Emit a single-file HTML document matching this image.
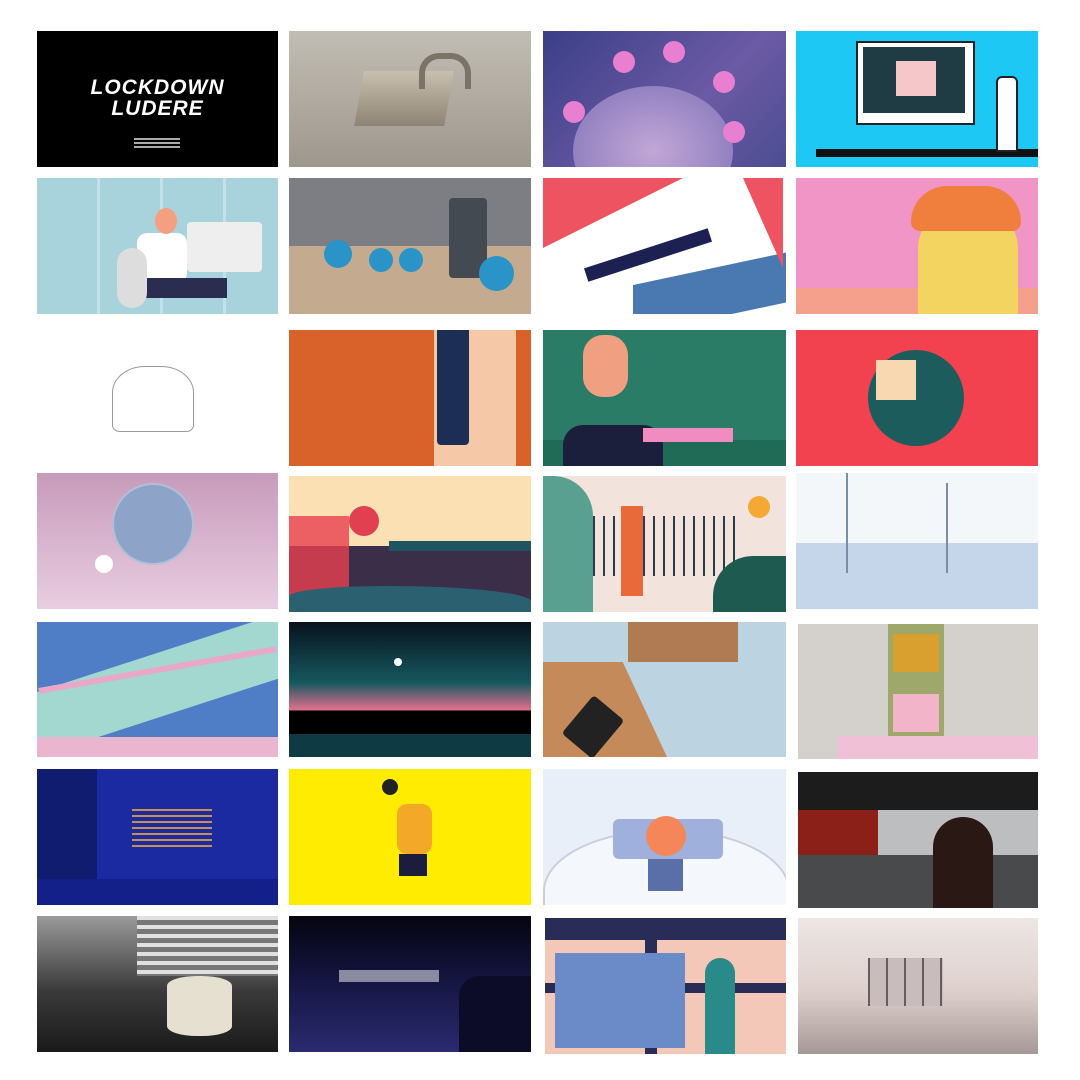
<!DOCTYPE html>
<html><head><meta charset="utf-8"><style>
body{margin:0;width:1080px;height:1080px;background:#fff;position:relative;overflow:hidden;font-family:"Liberation Sans",sans-serif}
.c{position:absolute;overflow:hidden}
.s{position:absolute}
</style></head><body>
<!-- Row 1 -->
<div class="c" style="left:37px;top:31px;width:241px;height:136px;background:#000">
  <div class="s" style="left:0;width:241px;top:46px;text-align:center;color:#fff;font-weight:bold;font-style:italic;font-size:21px;line-height:21px;letter-spacing:1px">LOCKDOWN<br>LUDERE</div>
  <div class="s" style="left:97px;top:107px;width:46px;height:2px;background:#aaa"></div>
  <div class="s" style="left:97px;top:111px;width:46px;height:2px;background:#aaa"></div>
  <div class="s" style="left:97px;top:115px;width:46px;height:2px;background:#aaa"></div>
</div>
<div class="c" style="left:289px;top:31px;width:242px;height:136px;background:linear-gradient(#c2bdb4,#9e978d)">
  <div class="s" style="left:70px;top:40px;width:90px;height:55px;background:linear-gradient(#c8bfae,#8d8474);transform:skewX(-10deg)"></div>
  <div class="s" style="left:130px;top:22px;width:40px;height:30px;border:6px solid #7a7367;border-bottom:none;border-radius:20px 20px 0 0"></div>
</div>
<div class="c" style="left:543px;top:31px;width:243px;height:136px;background:linear-gradient(135deg,#3b3f86,#6b5aa5 60%,#4d4d90)">
  <div class="s" style="left:30px;top:55px;width:160px;height:130px;border-radius:50%;background:radial-gradient(#c2a7d6,#7f72b8)"></div>
  <div class="s" style="left:70px;top:20px;width:22px;height:22px;border-radius:50%;background:#e87fd0"></div>
  <div class="s" style="left:120px;top:10px;width:22px;height:22px;border-radius:50%;background:#e87fd0"></div>
  <div class="s" style="left:170px;top:40px;width:22px;height:22px;border-radius:50%;background:#e87fd0"></div>
  <div class="s" style="left:20px;top:70px;width:22px;height:22px;border-radius:50%;background:#e87fd0"></div>
  <div class="s" style="left:180px;top:90px;width:22px;height:22px;border-radius:50%;background:#e87fd0"></div>
</div>
<div class="c" style="left:796px;top:31px;width:242px;height:136px;background:#1ec8f4">
  <div class="s" style="left:60px;top:10px;width:115px;height:80px;background:#fff;border:2px solid #222"></div>
  <div class="s" style="left:67px;top:16px;width:102px;height:66px;background:#1f3c44"></div>
  <div class="s" style="left:100px;top:30px;width:40px;height:35px;background:#f4c8c8"></div>
  <div class="s" style="left:20px;top:118px;width:222px;height:8px;background:#111"></div>
  <div class="s" style="left:200px;top:45px;width:18px;height:72px;background:#fff;border:2px solid #222;border-radius:6px 6px 2px 2px"></div>
</div>
<!-- Row 2 -->
<div class="c" style="left:37px;top:178px;width:241px;height:136px;background:#a8d3dc">
  <div class="s" style="left:0;top:0;width:241px;height:136px;background:repeating-linear-gradient(90deg,transparent 0 60px,#c2e1e8 60px 63px)"></div>
  <div class="s" style="left:150px;top:44px;width:75px;height:50px;background:#eee;border-radius:4px"></div>
  <div class="s" style="left:100px;top:55px;width:50px;height:50px;background:#fff;border-radius:10px"></div>
  <div class="s" style="left:118px;top:30px;width:22px;height:26px;background:#f4a080;border-radius:50%"></div>
  <div class="s" style="left:90px;top:100px;width:100px;height:20px;background:#2a2d50"></div>
  <div class="s" style="left:80px;top:70px;width:30px;height:60px;background:#ddd;border-radius:15px"></div>
</div>
<div class="c" style="left:289px;top:178px;width:242px;height:136px;background:linear-gradient(#7c7e84 0 50%,#c4ab8f 50%)">
  <div class="s" style="left:160px;top:20px;width:38px;height:80px;background:#444a52;border-radius:4px"></div>
  <div class="s" style="left:35px;top:62px;width:28px;height:28px;border-radius:50%;background:#2a93c7"></div>
  <div class="s" style="left:80px;top:70px;width:24px;height:24px;border-radius:50%;background:#2a93c7"></div>
  <div class="s" style="left:110px;top:70px;width:24px;height:24px;border-radius:50%;background:#2a93c7"></div>
  <div class="s" style="left:190px;top:78px;width:35px;height:35px;border-radius:50%;background:#2a93c7"></div>
</div>
<div class="c" style="left:543px;top:178px;width:243px;height:136px;background:#fff">
  <div class="s" style="left:0;top:0;width:0;height:0;border-top:70px solid #ed5360;border-right:140px solid transparent"></div>
  <div class="s" style="left:90px;top:90px;width:160px;height:50px;background:#4a78b0;transform:skewY(-12deg)"></div>
  <div class="s" style="left:40px;top:70px;width:130px;height:14px;background:#1d2052;transform:rotate(-18deg)"></div>
  <div class="s" style="left:200px;top:0;width:0;height:0;border-top:90px solid #ed5360;border-left:40px solid transparent"></div>
</div>
<div class="c" style="left:796px;top:178px;width:242px;height:136px;background:#f095c6">
  <div class="s" style="left:0;top:110px;width:242px;height:26px;background:#f5a08c"></div>
  <div class="s" style="left:122px;top:30px;width:100px;height:106px;background:#f4d460;border-radius:40px 40px 0 0"></div>
  <div class="s" style="left:115px;top:8px;width:110px;height:45px;background:#f07e3c;border-radius:40px 40px 10px 10px"></div>
</div>
<!-- Row 3 -->
<div class="c" style="left:37px;top:330px;width:241px;height:136px;background:#fff">
  <div class="s" style="left:75px;top:36px;width:80px;height:64px;border:1px solid #555;border-radius:40% 40% 10% 10%;opacity:.6"></div>
</div>
<div class="c" style="left:289px;top:330px;width:242px;height:136px;background:#d9612a">
  <div class="s" style="left:145px;top:0;width:82px;height:136px;background:#f5c8a8"></div>
  <div class="s" style="left:148px;top:0;width:32px;height:115px;background:#1d2e56;border-radius:0 0 4px 4px"></div>
  <div class="s" style="left:227px;top:0;width:15px;height:136px;background:#d9612a"></div>
</div>
<div class="c" style="left:543px;top:330px;width:243px;height:136px;background:#2a7c66">
  <div class="s" style="left:0;top:110px;width:243px;height:26px;background:#1f6b55"></div>
  <div class="s" style="left:40px;top:5px;width:45px;height:62px;background:#f0a080;border-radius:20px"></div>
  <div class="s" style="left:20px;top:95px;width:100px;height:41px;background:#1c1f3c;border-radius:20px 20px 0 0"></div>
  <div class="s" style="left:100px;top:98px;width:90px;height:14px;background:#f08cc0"></div>
</div>
<div class="c" style="left:796px;top:330px;width:242px;height:136px;background:#f2414f">
  <div class="s" style="left:72px;top:20px;width:96px;height:96px;border-radius:50%;background:#1c5c5c"></div>
  <div class="s" style="left:80px;top:30px;width:40px;height:40px;background:#f8d8b0"></div>
</div>
<!-- Row 4 -->
<div class="c" style="left:37px;top:473px;width:241px;height:136px;background:linear-gradient(#c79bbb,#e8cde0)">
  <div class="s" style="left:75px;top:10px;width:78px;height:78px;border-radius:50%;background:#8ea3c8;border:2px solid #b0c0d8"></div>
  <div class="s" style="left:58px;top:82px;width:18px;height:18px;border-radius:50%;background:#fff"></div>
</div>
<div class="c" style="left:289px;top:476px;width:242px;height:136px;background:#fbe0b4">
  <div class="s" style="left:0;top:70px;width:242px;height:66px;background:#3a2e48"></div>
  <div class="s" style="left:60px;top:30px;width:30px;height:30px;border-radius:50%;background:#e04050"></div>
  <div class="s" style="left:0;top:40px;width:60px;height:80px;background:#e84050;opacity:.8"></div>
  <div class="s" style="left:100px;top:65px;width:142px;height:10px;background:#1f5462"></div>
  <div class="s" style="left:0;top:110px;width:242px;height:26px;background:#2b6070;border-radius:40% 60% 0 0"></div>
</div>
<div class="c" style="left:543px;top:476px;width:243px;height:136px;background:#f2e4dc">
  <div class="s" style="left:205px;top:20px;width:22px;height:22px;border-radius:50%;background:#f5a833"></div>
  <div class="s" style="left:40px;top:40px;width:160px;height:60px;background:repeating-linear-gradient(90deg,#2a3b4c 0 2px,transparent 2px 10px)"></div>
  <div class="s" style="left:0;top:0;width:50px;height:136px;background:#5aa090;border-radius:0 40px 0 0"></div>
  <div class="s" style="left:170px;top:80px;width:73px;height:56px;background:#1f5a50;border-radius:40px 0 0 0"></div>
  <div class="s" style="left:78px;top:30px;width:22px;height:90px;background:#e86a3a"></div>
</div>
<div class="c" style="left:796px;top:473px;width:242px;height:136px;background:#f4f7fa">
  <div class="s" style="left:0;top:70px;width:242px;height:66px;background:#c6d6ea"></div>
  <div class="s" style="left:50px;top:0;width:2px;height:100px;background:#7a8ea8"></div>
  <div class="s" style="left:150px;top:10px;width:2px;height:90px;background:#7a8ea8"></div>
</div>
<!-- Row 5 -->
<div class="c" style="left:37px;top:622px;width:241px;height:135px;background:#4f7ec6">
  <div class="s" style="left:0;top:70px;width:241px;height:65px;background:#a3d8d0;transform:skewY(-18deg);transform-origin:0 100%"></div>
  <div class="s" style="left:0;top:45px;width:241px;height:6px;background:#e9a8c8;transform:rotate(-10deg)"></div>
  <div class="s" style="left:0;top:115px;width:241px;height:25px;background:#e9b5cf"></div>
</div>
<div class="c" style="left:289px;top:622px;width:242px;height:135px;background:linear-gradient(#07121c,#16585e 45%,#e0708c 65%,#000 66%)">
  <div class="s" style="left:105px;top:36px;width:8px;height:8px;border-radius:50%;background:#fff"></div>
  <div class="s" style="left:0;top:112px;width:242px;height:23px;background:#0e3a44"></div>
</div>
<div class="c" style="left:543px;top:622px;width:243px;height:135px;background:#bcd3e2">
  <div class="s" style="left:-40px;top:40px;width:150px;height:130px;background:#c48a5a;transform:skewX(25deg)"></div>
  <div class="s" style="left:30px;top:80px;width:40px;height:50px;background:#222;border-radius:4px;transform:rotate(40deg)"></div>
  <div class="s" style="left:85px;top:0;width:110px;height:40px;background:#b07a52"></div>
</div>
<div class="c" style="left:798px;top:624px;width:240px;height:135px;background:#d4d1cd">
  <div class="s" style="left:90px;top:0;width:56px;height:112px;background:#9ea86a"></div>
  <div class="s" style="left:95px;top:10px;width:46px;height:38px;background:#d9a030"></div>
  <div class="s" style="left:95px;top:70px;width:46px;height:38px;background:#f2b4c8"></div>
  <div class="s" style="left:40px;top:112px;width:200px;height:23px;background:#f0c0d6"></div>
</div>
<!-- Row 6 -->
<div class="c" style="left:37px;top:769px;width:241px;height:136px;background:#1b2aa0">
  <div class="s" style="left:0;top:0;width:60px;height:136px;background:#101c70"></div>
  <div class="s" style="left:95px;top:40px;width:80px;height:40px;background:repeating-linear-gradient(#c89050 0 2px,transparent 2px 6px)"></div>
  <div class="s" style="left:0;top:110px;width:241px;height:26px;background:#14208a"></div>
</div>
<div class="c" style="left:289px;top:769px;width:242px;height:136px;background:#ffec00">
  <div class="s" style="left:108px;top:35px;width:35px;height:50px;background:#f4a828;border-radius:10px"></div>
  <div class="s" style="left:110px;top:85px;width:28px;height:22px;background:#1c1c3c"></div>
  <div class="s" style="left:93px;top:10px;width:16px;height:16px;border-radius:50%;background:#222"></div>
</div>
<div class="c" style="left:543px;top:769px;width:243px;height:136px;background:#e9eff9">
  <div class="s" style="left:0;top:60px;width:243px;height:120px;border:2px solid #ccd;border-radius:50% 50% 0 0;background:#f4f7fc"></div>
  <div class="s" style="left:70px;top:50px;width:110px;height:40px;background:#9fb0dc;border-radius:6px"></div>
  <div class="s" style="left:103px;top:47px;width:40px;height:40px;border-radius:50%;background:#f5865a"></div>
  <div class="s" style="left:105px;top:90px;width:35px;height:32px;background:#5a6ea8"></div>
</div>
<div class="c" style="left:798px;top:772px;width:240px;height:136px;background:#484a4c">
  <div class="s" style="left:0;top:0;width:240px;height:38px;background:#1c1c1c"></div>
  <div class="s" style="left:0;top:38px;width:240px;height:45px;background:#bdbebf"></div>
  <div class="s" style="left:0;top:38px;width:80px;height:45px;background:#8a2018"></div>
  <div class="s" style="left:135px;top:45px;width:60px;height:91px;background:#2a1814;border-radius:30px 30px 0 0"></div>
</div>
<!-- Row 7 -->
<div class="c" style="left:37px;top:916px;width:241px;height:136px;background:linear-gradient(#9a9a9a,#3a3a3a 55%,#1a1a1a)">
  <div class="s" style="left:100px;top:0;width:141px;height:60px;background:repeating-linear-gradient(#e0e0e0 0 4px,#777 4px 9px)"></div>
  <div class="s" style="left:130px;top:60px;width:65px;height:60px;background:#e6e0d0;border-radius:30px/10px"></div>
</div>
<div class="c" style="left:289px;top:916px;width:242px;height:136px;background:linear-gradient(#050510,#12123a 40%,#2a2a70)">
  <div class="s" style="left:50px;top:54px;width:100px;height:12px;background:#8a8aa0"></div>
  <div class="s" style="left:170px;top:60px;width:72px;height:76px;background:#0c0c28;border-radius:20px 0 0 0"></div>
</div>
<div class="c" style="left:545px;top:918px;width:241px;height:136px;background:#f4c8b8">
  <div class="s" style="left:0;top:0;width:241px;height:22px;background:#2a2c58"></div>
  <div class="s" style="left:100px;top:0;width:12px;height:136px;background:#2a2c58"></div>
  <div class="s" style="left:0;top:65px;width:241px;height:10px;background:#2a2c58"></div>
  <div class="s" style="left:10px;top:35px;width:130px;height:95px;background:#6a8ac8"></div>
  <div class="s" style="left:160px;top:40px;width:30px;height:96px;background:#2a8a8a;border-radius:15px 15px 0 0"></div>
</div>
<div class="c" style="left:798px;top:918px;width:240px;height:136px;background:linear-gradient(#ece6e4,#ddd0cc 55%,#a59896)">
  <div class="s" style="left:70px;top:40px;width:75px;height:48px;background:repeating-linear-gradient(90deg,#6a5c5c 0 2px,#c8bcbc 2px 18px)"></div>
</div>
</body></html>
